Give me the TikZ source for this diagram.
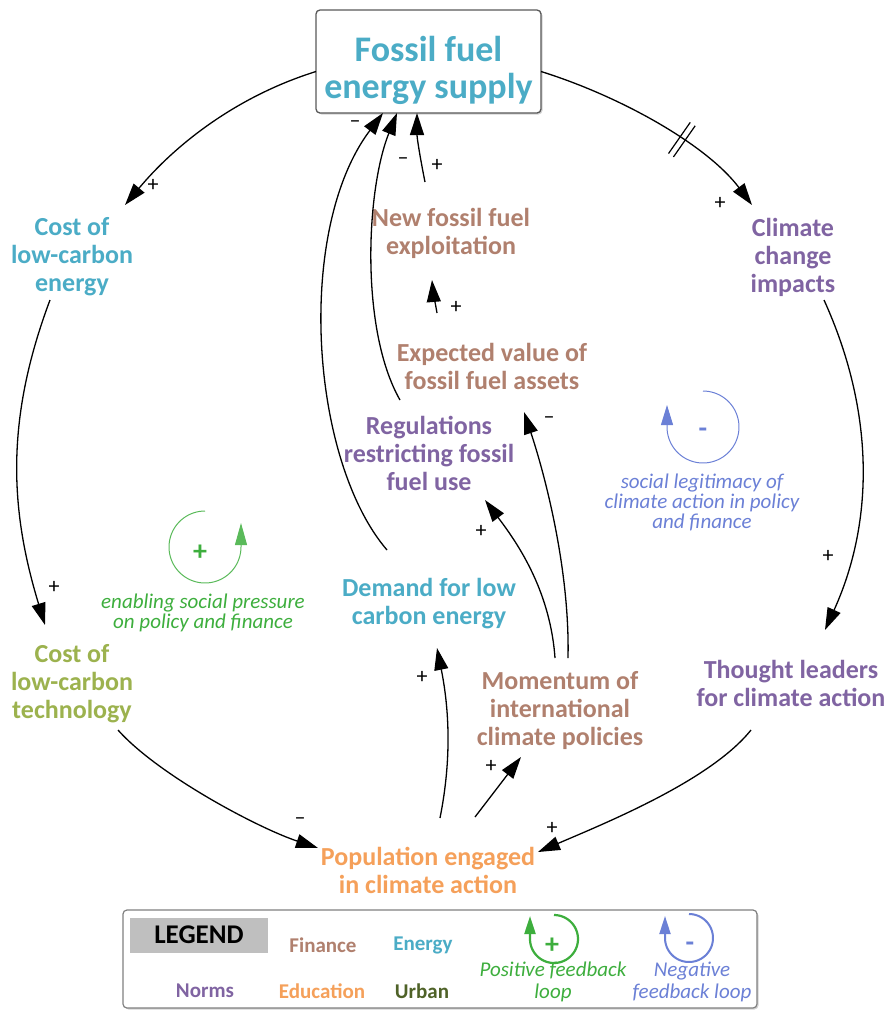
\documentclass[tikz,border=0pt]{standalone}
\usepackage{fontspec}
\setmainfont{Carlito}
\usetikzlibrary{arrows.meta,shadows,decorations.markings}

\definecolor{energy}{HTML}{4BACC6}
\definecolor{finance}{HTML}{B0806E}
\definecolor{norms}{HTML}{8064A2}
\definecolor{education}{HTML}{F5A05A}
\definecolor{urban}{HTML}{4F6228}
\definecolor{tech}{HTML}{9CB24E}
\definecolor{posloop}{HTML}{3DAE3D}
\definecolor{negloop}{HTML}{6B80D6}
\definecolor{boxline}{HTML}{595959}

\begin{document}
\begin{tikzpicture}[x=1pt,y=-1pt,
  var/.style={font=\fontsize{26}{28}\selectfont\bfseries, align=center, inner sep=0pt},
  link/.style={-{Triangle[length=22pt,width=14pt]}, line width=1.3pt, black},
  sign/.style={font=\fontsize{22}{22}\selectfont, inner sep=0pt},
  looptext/.style={font=\fontsize{21}{20}\selectfont\itshape, align=center, inner sep=0pt},
  legitem/.style={font=\fontsize{21}{22}\selectfont\bfseries, inner sep=0pt},
  loopsign/.style={font=\fontsize{28}{28}\selectfont\bfseries, inner sep=0pt},
  % delay mark: two short strokes across the link
  cut/.style={postaction={decorate}, decoration={markings, mark=at position #1 with {
      \draw[line width=1.2pt, -] (-3pt,-19pt) -- (-3pt,19pt);
      \draw[line width=1.2pt, -] (3pt,-19pt) -- (3pt,19pt);}}},
]
\useasboundingbox (0,0) rectangle (889,1010);

% ---- stock / variable nodes ----
\node[draw=boxline, fill=white, rounded corners=4pt, line width=1.3pt,
      minimum width=225pt, minimum height=103pt,
      drop shadow={shadow xshift=1.5pt, shadow yshift=-1.5pt, opacity=0.35}]
      (fossil) at (428.5,61.5) {};
\node[font=\fontsize{36}{37}\selectfont\bfseries, text=energy, align=center, inner sep=0pt]
      (fossiltext) at (428.5,70) {Fossil fuel\\energy supply};

\node[var, text=energy]    (costE)    at (72,257)  {Cost of\\low-carbon\\energy};
\node[var, text=norms]     (climate)  at (793,257) {Climate\\change\\impacts};
\node[var, text=finance]   (newff)    at (451,233) {New fossil fuel\\exploitation};
\node[var, text=finance]   (expv)     at (492,366) {Expected value of\\fossil fuel assets};
\node[var, text=norms]     (reg)      at (429,453) {Regulations\\restricting fossil\\fuel use};
\node[var, text=energy]    (demand)   at (429,604) {Demand for low\\carbon energy};
\node[var, text=tech]      (costT)    at (72,684)  {Cost of\\low-carbon\\technology};
\node[var, text=norms]     (thought)  at (791,683) {Thought leaders\\for climate action};
\node[var, text=finance]   (momentum) at (560,711) {Momentum of\\international\\climate policies};
\node[var, text=education] (pop)      at (428,870) {Population engaged\\in climate action};

% ---- causal links ----
\draw[link] ([shift={(-112.5,10)}]fossil.center) .. controls +(-80,25) and +(50,-60) .. ([shift={(53,-52)}]costE.center);
\draw[link, cut=0.62] ([shift={(112.5,10)}]fossil.center) .. controls +(80,25) and +(-45,-60) .. ([shift={(-41,-52)}]climate.center);
\draw[link] ([shift={(-22,43)}]costE.center) .. controls +(-45,120) and +(-35,-115) .. ([shift={(-27,-59)}]costT.center);
\draw[link] ([shift={(31,43)}]climate.center) .. controls +(50,110) and +(50,-110) .. ([shift={(34,-53)}]thought.center);
\draw[link] ([shift={(46,46)}]costT.center) .. controls +(40,45) and +(-60,-20) .. ([shift={(-110,-22)}]pop.center);
\draw[link] ([shift={(-40,47)}]thought.center) .. controls +(-40,50) and +(70,-30) .. ([shift={(110,-18)}]pop.center);
\draw[link] ([shift={(12,-52)}]pop.center) .. controls +(12,-60) and +(12,60) .. ([shift={(8,44)}]demand.center);
\draw[link] ([shift={(47,-53)}]pop.center) -- ([shift={(-39,46)}]momentum.center);
\draw[link] ([shift={(-5,-53)}]momentum.center) .. controls +(-5,-70) and +(30,40) .. ([shift={(56,47)}]reg.center);
\draw[link] ([shift={(8,-53)}]momentum.center) .. controls +(2,-90) and +(20,60) .. ([shift={(32,46)}]expv.center);
\draw[link] ([shift={(-42,-54)}]demand.center) .. controls +(-77,-90) and +(-88,117) .. ([shift={(-45.5,51.5)}]fossil.center);
\draw[link] ([shift={(-29,-53)}]reg.center) .. controls +(-40,-70) and +(-31,77) .. ([shift={(-31.5,51.5)}]fossil.center);
\draw[link] ([shift={(-26,-51)}]newff.center) .. controls +(-5,-25) and +(0,25) .. ([shift={(-11.5,51.5)}]fossil.center);
\draw[link] ([shift={(-55,-53)}]expv.center) .. controls +(-2,-12) and +(1,12) .. ([shift={(-19,47)}]newff.center);

% ---- link polarities ----
\node[sign] (p1)  at (153,185) {+};
\node[sign] (p2)  at (720,203) {+};
\node[sign] (p3)  at (54,587)  {+};
\node[sign] (p4)  at (828,556) {+};
\node[sign] (p5)  at (300,821) {\textendash};
\node[sign] (p6)  at (552,828) {+};
\node[sign] (p7)  at (422,677) {+};
\node[sign] (p8)  at (491,766) {+};
\node[sign] (p9)  at (481,531) {+};
\node[sign] (p10) at (549,420) {\textendash};
\node[sign] (p11) at (355,124) {\textendash};
\node[sign] (p12) at (403,161) {\textendash};
\node[sign] (p13) at (437,165) {+};
\node[sign] (p14) at (456,307) {+};

% ---- loop markers ----
\draw[posloop!85, line width=1pt, -{Triangle[length=22pt,width=12pt]}]
  plot[domain=90:360, samples=60] ({205+36*cos(\x)},{547-36*sin(\x)}) -- ++(0,-24);
\node[loopsign, text=posloop] (rplus) at (200,553) {+};
\node[looptext, text=posloop] (rtext) at (203,613) {enabling social pressure\\on policy and finance};

\draw[negloop, line width=1pt, -{Triangle[length=20pt,width=12pt]}]
  plot[domain=90:-180, samples=60] ({703+36*cos(\x)},{427-36*sin(\x)}) -- ++(0,-22);
\node[loopsign, text=negloop] (bminus) at (703,433) {-};
\node[looptext, text=negloop] (btext) at (702,502) {social legitimacy of\\climate action in policy\\and finance};

% ---- legend ----
\node[draw=gray, fill=white, rounded corners=4pt, line width=1.2pt,
      minimum width=634pt, minimum height=98pt,
      drop shadow={shadow xshift=1.5pt, shadow yshift=-1.5pt, opacity=0.35}]
      (legend) at (440,959) {};
\node[fill=black!25, minimum width=138pt, minimum height=35pt, inner sep=0pt,
      font=\fontsize{27}{27}\selectfont\bfseries] (legtitle) at (199,935) {LEGEND};
\node[legitem, text=finance]   (lfin) at (323,945) {Finance};
\node[legitem, text=energy]    (lene) at (423,945) {Energy};
\node[legitem, text=norms]     (lnor) at (205,991) {Norms};
\node[legitem, text=education] (ledu) at (322,991) {Education};
\node[legitem, text=urban]     (lurb) at (422,991) {Urban};

\draw[posloop, line width=2.2pt, -{Triangle[length=18pt,width=11pt]}]
  plot[domain=90:-180, samples=50] ({554+24*cos(\x)},{939-24*sin(\x)}) -- ++(0,-23);
\node[loopsign, text=posloop] (lplus) at (552,946) {+};
\node[looptext, text=posloop, font=\fontsize{21}{22}\selectfont\itshape] (lpos) at (553,982) {Positive feedback\\loop};

\draw[negloop, line width=2pt, -{Triangle[length=18pt,width=11pt]}]
  plot[domain=90:-180, samples=50] ({689+24*cos(\x)},{938-24*sin(\x)}) -- ++(0,-22);
\node[loopsign, text=negloop] (lminus) at (690,947) {-};
\node[looptext, text=negloop, font=\fontsize{21}{22}\selectfont\itshape] (lneg) at (692,982) {Negative\\feedback loop};
\end{tikzpicture}
\end{document}
